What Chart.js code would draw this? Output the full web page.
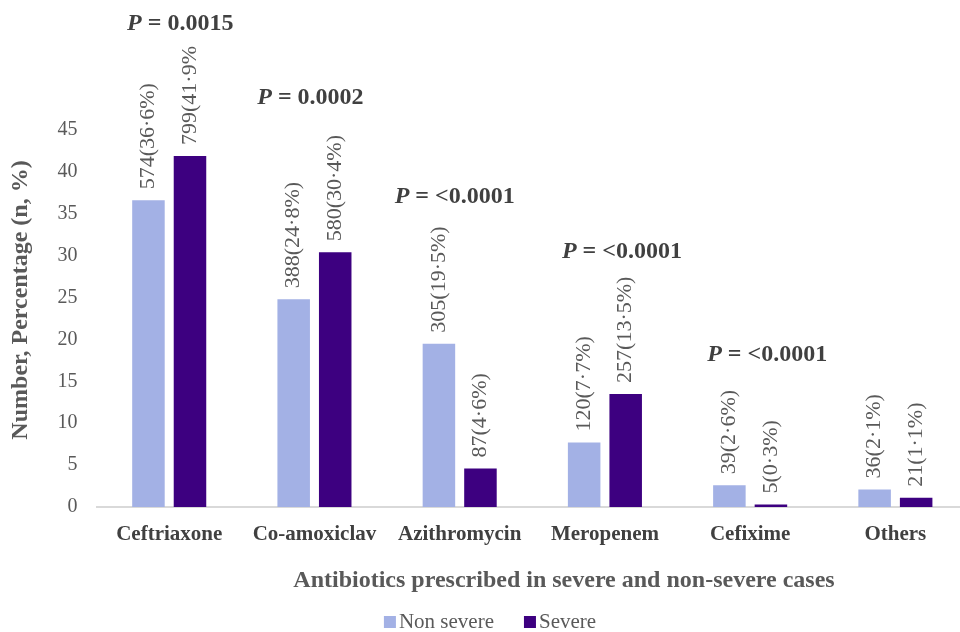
<!DOCTYPE html>
<html>
<head>
<meta charset="utf-8">
<script src="https://cdn.jsdelivr.net/npm/chart.js@4.4.1/dist/chart.umd.min.js"></script>
<style>
  html, body { margin: 0; padding: 0; background: #fff; overflow: hidden; }
  #wrap { width: 976px; height: 632px; position: relative; }
</style>
</head>
<body>
<div id="wrap"><canvas id="chart" width="976" height="632"></canvas></div>
<script>
// Antibiotics prescribed, non-severe vs severe cases
const categories = ['Ceftriaxone', 'Co-amoxiclav', 'Azithromycin', 'Meropenem', 'Cefixime', 'Others'];
const nonSevereCount = [574, 388, 305, 120, 39, 36];
const nonSeverePct   = [36.6, 24.8, 19.5, 7.7, 2.6, 2.1];
const severeCount    = [799, 580, 87, 257, 5, 21];
const severePct      = [41.9, 30.4, 4.6, 13.5, 0.3, 1.1];
const pValues        = ['0.0015', '0.0002', '<0.0001', '<0.0001', '<0.0001', null];
const seriesNames    = ['Non severe', 'Severe'];
const yTickValues    = [0, 5, 10, 15, 20, 25, 30, 35, 40, 45];
const xTitle = 'Antibiotics prescribed in severe and non-severe cases';
const yTitle = 'Number, Percentage (n, %)';

// placement of the P-value captions: pixels above the taller bar, horizontal nudge
const pLift  = [134, 157, 149, 144, 132, 0];
const pNudge = [11, -4, -5, 17, 17, 0];

const FONT = "'Liberation Serif', 'Times New Roman', serif";
const COLORS = ['#A3B1E5', '#3D0080'];
const TEXT = '#595959';

const fmtLabel = (n, p) => n + '(' + p.toFixed(1).replace('.', '\u00B7') + '%)';
const counts = [nonSevereCount, severeCount];

const annotate = {
  id: 'annotate',
  afterDatasetsDraw(chart) {
    const ctx = chart.ctx;
    const yScale = chart.scales.y;
    const xScale = chart.scales.x;

    // rotated value labels above each bar
    ctx.save();
    ctx.beginPath();
    ctx.rect(0, 46, chart.width, chart.height);
    ctx.clip();
    ctx.fillStyle = TEXT;
    ctx.font = '22px ' + FONT;
    ctx.textAlign = 'left';
    ctx.textBaseline = 'middle';
    chart.data.datasets.forEach((ds, di) => {
      const meta = chart.getDatasetMeta(di);
      meta.data.forEach((bar, i) => {
        ctx.save();
        ctx.translate(bar.x, bar.y - 11);
        ctx.rotate(-Math.PI / 2);
        ctx.fillText(fmtLabel(counts[di][i], ds.data[i]), 0, 0);
        ctx.restore();
      });
    });
    ctx.restore();

    // P-value captions
    ctx.save();
    ctx.fillStyle = '#404040';
    ctx.textBaseline = 'middle';
    pValues.forEach((pv, i) => {
      if (pv === null) return;
      const top = Math.max(nonSeverePct[i], severePct[i]);
      const y = yScale.getPixelForValue(top) - pLift[i] + 2;
      const cx = xScale.getPixelForValue(i) + pNudge[i];
      const a = 'P';
      const b = ' = ' + pv;
      ctx.font = 'italic bold 24px ' + FONT;
      const wa = ctx.measureText(a).width;
      ctx.font = 'bold 24px ' + FONT;
      const wb = ctx.measureText(b).width;
      const x0 = cx - (wa + wb) / 2;
      ctx.textAlign = 'left';
      ctx.font = 'italic bold 24px ' + FONT;
      ctx.fillText(a, x0, y);
      ctx.font = 'bold 24px ' + FONT;
      ctx.fillText(b, x0 + wa, y);
    });
    ctx.restore();

    // axis titles
    ctx.save();
    ctx.fillStyle = TEXT;
    ctx.font = 'bold 24px ' + FONT;
    ctx.textAlign = 'center';
    ctx.textBaseline = 'middle';
    ctx.fillText(xTitle, 564, 581);
    ctx.translate(21, 300);
    ctx.rotate(-Math.PI / 2);
    ctx.fillText(yTitle, 0, 0);
    ctx.restore();

    // legend
    ctx.save();
    ctx.font = '21px ' + FONT;
    ctx.textBaseline = 'middle';
    ctx.textAlign = 'left';
    const box = 12, gap = 3, spacing = 30;
    const widths = seriesNames.map(s => ctx.measureText(s).width);
    const total = widths.reduce((s, w) => s + box + gap + w, 0) + spacing;
    let x = 490 - total / 2;
    const ly = 622;
    seriesNames.forEach((s, i) => {
      ctx.fillStyle = COLORS[i];
      ctx.fillRect(x, ly - box / 2, box, box);
      ctx.fillStyle = TEXT;
      ctx.fillText(s, x + box + gap, ly);
      x += box + gap + widths[i] + spacing;
    });
    ctx.restore();
  }
};

new Chart(document.getElementById('chart'), {
  type: 'bar',
  data: {
    labels: categories,
    datasets: [
      { label: seriesNames[0], data: nonSeverePct, backgroundColor: COLORS[0] },
      { label: seriesNames[1], data: severePct, backgroundColor: COLORS[1] }
    ]
  },
  options: {
    responsive: false,
    animation: false,
    devicePixelRatio: 1,
    layout: { padding: { top: 130, right: 8, bottom: 25, left: 0 } },
    datasets: { bar: { categoryPercentage: 0.572, barPercentage: 0.783 } },
    plugins: { legend: { display: false }, tooltip: { enabled: false } },
    scales: {
      x: {
        grid: { display: false, drawTicks: false },
        border: { display: true, color: '#D9D9D9', width: 2 },
        ticks: { color: '#404040', font: { family: FONT, size: 21, weight: 'bold' }, padding: 15, maxRotation: 0 },
        afterFit(scale) { scale.height = 100; }
      },
      y: {
        min: 0, max: 45,
        afterBuildTicks(scale) { scale.ticks = yTickValues.map(v => ({ value: v })); },
        grid: { display: false, drawTicks: false },
        border: { display: false },
        ticks: { color: TEXT, font: { family: FONT, size: 20 }, padding: 19 },
        afterFit(scale) { scale.width = 96.6; }
      }
    }
  },
  plugins: [annotate]
});
</script>
</body>
</html>
